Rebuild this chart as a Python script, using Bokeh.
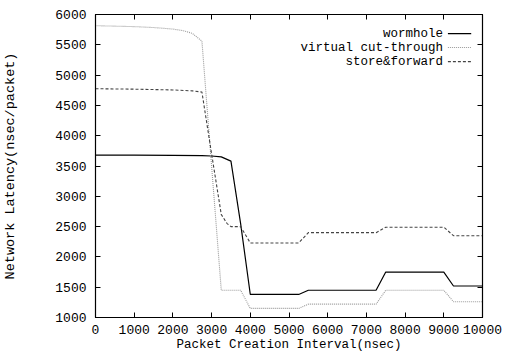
from bokeh.plotting import figure
from bokeh.models import LinearAxis, FixedTicker, Range1d
from bokeh.core.properties import value
from bokeh.embed import file_html
from bokeh.resources import INLINE

# ---- data ----
wh_x = [0, 1000, 2000, 2750, 3000, 3250, 3500, 3750, 4000, 5250, 5500, 7250, 7500, 9000, 9250, 10000]
wh_y = [3680, 3680, 3675, 3670, 3665, 3650, 3580, 2550, 1380, 1380, 1450, 1450, 1750, 1750, 1520, 1520]

vct_x = [0, 500, 1000, 1500, 2000, 2250, 2500, 2750, 3000, 3250, 3750, 4000, 5250, 5500, 7250, 7500, 9000, 9250, 10000]
vct_y = [5815, 5808, 5800, 5785, 5760, 5735, 5690, 5560, 3500, 1450, 1450, 1150, 1150, 1220, 1220, 1450, 1450, 1260, 1260]

sf_x = [0, 1000, 2000, 2500, 2750, 3000, 3250, 3400, 3500, 3750, 4000, 5250, 5500, 7250, 7500, 9000, 9250, 10000]
sf_y = [4775, 4768, 4755, 4740, 4720, 3700, 2700, 2550, 2500, 2500, 2230, 2230, 2400, 2400, 2490, 2490, 2350, 2350]

series_names = ["wormhole", "virtual cut-through", "store&forward"]
x_ticks = [0, 1000, 2000, 3000, 4000, 5000, 6000, 7000, 8000, 9000, 10000]
y_ticks = [1000, 1500, 2000, 2500, 3000, 3500, 4000, 4500, 5000, 5500, 6000]

FONT = "Liberation Mono"

p = figure(width=507, height=355, output_backend="svg", toolbar_location=None,
           x_range=Range1d(0, 10000), y_range=Range1d(1000, 6000),
           min_border_left=94, min_border_right=25, min_border_top=14, min_border_bottom=38)
p.background_fill_color = "white"
p.border_fill_color = "white"
p.outline_line_color = "black"
p.outline_line_width = 1.2
p.xgrid.visible = False
p.ygrid.visible = False

styles = [
    dict(line_color="black", line_width=1.2),
    dict(line_color="#999999", line_width=1.1, line_dash="1 1"),
    dict(line_color="#444444", line_width=1.1, line_dash="3 2"),
]
data = [(wh_x, wh_y), (vct_x, vct_y), (sf_x, sf_y)]
for (xs, ys), st in zip(data, styles):
    p.line(xs, ys, **st)

# legend (gnuplot style: text right-aligned, sample to the right)
leg_y = [5686, 5455, 5223]
for name, ly, st in zip(series_names, leg_y, styles):
    p.text(x=[8977], y=[ly], text=[name], text_align="right", text_baseline="middle",
           text_font=value(FONT), text_font_size="12.5px", text_color="black")
    p.line([9106, 9708], [ly, ly], **st)

def style_axis(ax, labels=True):
    ax.major_tick_in = 5
    ax.major_tick_out = 0
    ax.minor_tick_in = 0
    ax.minor_tick_out = 0
    ax.axis_line_color = "black"
    ax.major_tick_line_color = "black"
    ax.major_label_text_font = FONT
    ax.major_label_text_font_size = "13px"
    ax.major_label_text_color = "black"
    ax.axis_label_text_font = FONT
    ax.axis_label_text_font_size = "12.5px"
    ax.axis_label_text_font_style = "normal"
    ax.axis_label_text_color = "black"
    if not labels:
        ax.major_label_text_color = None
        ax.major_label_text_font_size = "1px"
        ax.major_label_standoff = 0

xa = p.xaxis[0]
xa.ticker = FixedTicker(ticks=x_ticks)
xa.axis_label = "Packet Creation Interval(nsec)"
style_axis(xa)
xa.major_label_standoff = 7
xa.axis_label_standoff = 1

ya = p.yaxis[0]
ya.ticker = FixedTicker(ticks=y_ticks)
ya.axis_label = "Network Latency(nsec/packet)"
style_axis(ya)
ya.axis_label_text_font_size = "13.5px"
ya.major_label_standoff = 9
ya.axis_label_standoff = 34

top = LinearAxis(ticker=FixedTicker(ticks=x_ticks))
style_axis(top, labels=False)
p.add_layout(top, "above")
right = LinearAxis(ticker=FixedTicker(ticks=y_ticks))
style_axis(right, labels=False)
p.add_layout(right, "right")

open("out.html", "w").write(file_html(p, INLINE))
